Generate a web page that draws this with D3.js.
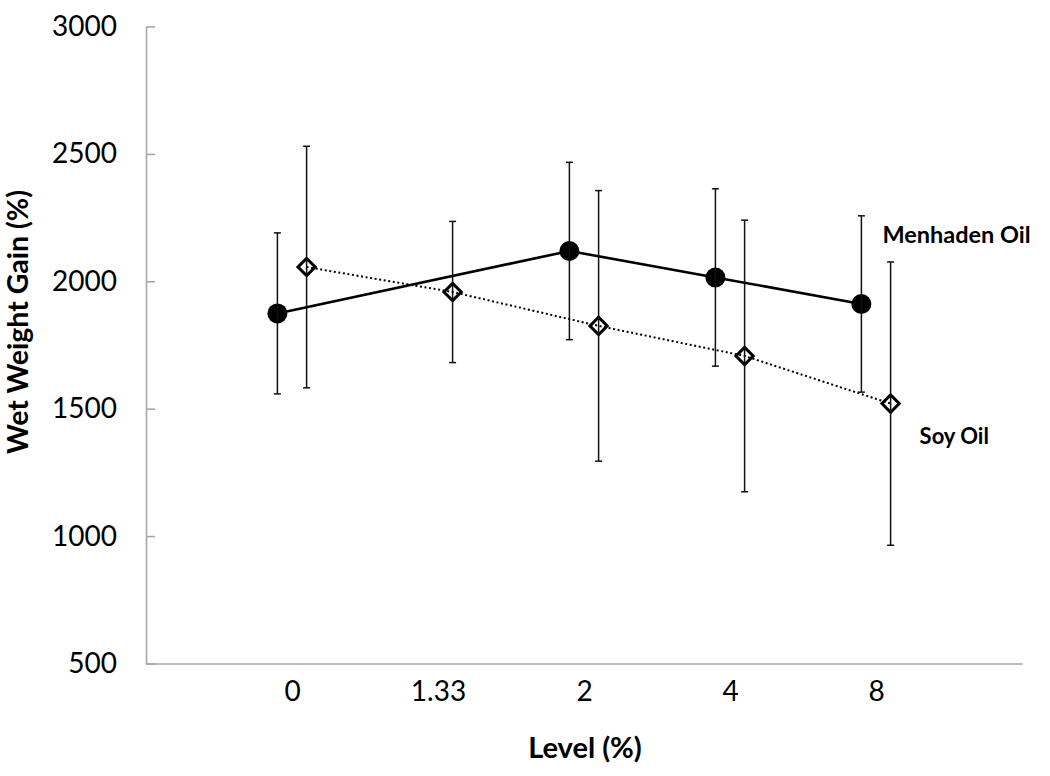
<!DOCTYPE html>
<html>
<head>
<meta charset="utf-8">
<script src="https://cdn.jsdelivr.net/npm/d3@7/dist/d3.min.js"></script>
<style>
  html, body { margin: 0; padding: 0; background: #fff; }
  svg { display: block; }
  text { font-family: Lato, "Open Sans", sans-serif; fill: #000; }
</style>
</head>
<body>
<svg id="chart" width="1050" height="776"></svg>
<script>
// ---- data ----
const categories = ["0", "1.33", "2", "4", "8"];
const menhadenMean = [1874, null, 2119, 2015, 1911];
const menhadenErr  = [316, null, 348, 348, 346];
const soyMean = [2056, 1958, 1825, 1707, 1520];
const soyErr  = [474, 277, 531, 533, 556];
const yTicks = [500, 1000, 1500, 2000, 2500, 3000];
const seriesNames = ["Menhaden Oil", "Soy Oil"];

// ---- layout ----
(function () {
const svg = d3.select("#chart");
const mLeft = 146, mRight = 1022, mTop = 26.5, mBottom = 663.5;
const dodge = 0.1;

const x = d3.scaleLinear().domain([0, categories.length + 1]).range([mLeft, mRight]);
const y = d3.scaleLinear().domain([500, 3000]).range([mBottom, mTop]);

const axisColor = "#a6a6a6";

// y axis
const gy = svg.append("g").attr("transform", `translate(${mLeft},0)`)
  .call(d3.axisLeft(y).tickValues(yTicks).tickSize(-9).tickSizeOuter(0).tickPadding(29).tickFormat(d3.format("d")));
gy.select(".domain").attr("stroke", axisColor).attr("stroke-width", 1.6);
gy.selectAll(".tick line").attr("stroke", axisColor).attr("stroke-width", 1.6);
gy.selectAll(".tick text").attr("font-size", 28).attr("font-family", "Lato, sans-serif").attr("fill", "#000");

// x axis
const gx = svg.append("g").attr("transform", `translate(0,${mBottom})`)
  .call(d3.axisBottom(x).tickValues(categories.map((c, i) => i + 1)).tickFormat((d) => categories[d - 1])
    .tickSize(0).tickSizeOuter(0).tickPadding(18));
gx.select(".domain").attr("stroke", axisColor).attr("stroke-width", 1.6);
gx.selectAll(".tick text").attr("font-size", 28).attr("font-family", "Lato, sans-serif").attr("fill", "#000");

// axis titles
svg.append("text")
  .attr("transform", `translate(28,322) rotate(-90)`)
  .attr("text-anchor", "middle")
  .attr("font-size", 28.5).attr("font-weight", "bold")
  .text("Wet Weight Gain (%)");

svg.append("text")
  .attr("x", 585).attr("y", 758)
  .attr("text-anchor", "middle")
  .attr("font-size", 29).attr("font-weight", "bold")
  .text("Level (%)");

// series data points
const menPts = categories.map((c, i) => ({ i, v: menhadenMean[i], e: menhadenErr[i], xv: i + 1 - dodge })).filter(d => d.v != null);
const soyPts = categories.map((c, i) => ({ i, v: soyMean[i], e: soyErr[i], xv: i + 1 + dodge }));

const line = d3.line().x(d => x(d.xv)).y(d => y(d.v));

// lines
svg.append("path").datum(menPts).attr("d", line)
  .attr("fill", "none").attr("stroke", "#000").attr("stroke-width", 2.6);
svg.append("path").datum(soyPts).attr("d", line)
  .attr("fill", "none").attr("stroke", "#000").attr("stroke-width", 2).attr("stroke-dasharray", "2,2.6");

// markers
svg.append("g").selectAll("path").data(menPts).join("path")
  .attr("transform", d => `translate(${x(d.xv)},${y(d.v)})`)
  .attr("d", d3.symbol(d3.symbolCircle, Math.PI * 100))
  .attr("fill", "#000");
svg.append("g").selectAll("path").data(soyPts).join("path")
  .attr("transform", d => `translate(${x(d.xv)},${y(d.v)}) rotate(45)`)
  .attr("d", d3.symbol(d3.symbolSquare, 150))
  .attr("fill", "none").attr("stroke", "#000").attr("stroke-width", 3);

// error bars
function errorBars(pts) {
  const g = svg.append("g").attr("stroke", "#111").attr("stroke-width", 1.5);
  const cap = 3.5;
  pts.forEach(d => {
    const cx = x(d.xv), y1 = y(d.v + d.e), y2 = y(d.v - d.e);
    g.append("line").attr("x1", cx).attr("x2", cx).attr("y1", y1).attr("y2", y2);
    g.append("line").attr("x1", cx - cap).attr("x2", cx + cap).attr("y1", y1).attr("y2", y1);
    g.append("line").attr("x1", cx - cap).attr("x2", cx + cap).attr("y1", y2).attr("y2", y2);
  });
}
errorBars(menPts);
errorBars(soyPts);

// series labels
const lastMen = menPts[menPts.length - 1];
const lastSoy = soyPts[soyPts.length - 1];
svg.append("text")
  .attr("x", x(lastMen.xv) + 21).attr("y", y(lastMen.v) - 61)
  .attr("font-size", 23.5).attr("font-weight", "bold")
  .text(seriesNames[0]);
svg.append("text")
  .attr("x", x(lastSoy.xv) + 29).attr("y", y(lastSoy.v) + 40)
  .attr("font-size", 22).attr("font-weight", "bold")
  .text(seriesNames[1]);
})();
</script>
</body>
</html>
